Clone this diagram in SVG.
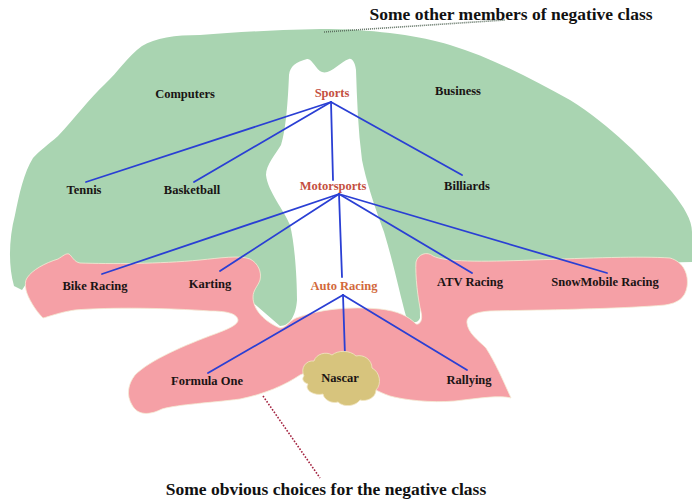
<svg xmlns="http://www.w3.org/2000/svg" width="692" height="500" viewBox="0 0 692 500">
  <style>
    .region-green { fill: #a9d4b1; }
    .region-pink { fill: #f5a0a6; stroke: #f4ecd6; stroke-width: 0.8; }
    .region-tan { fill: #d7c47d; stroke: #f1e6c4; stroke-width: 0.8; }
    .edge { stroke: #2a3fd4; stroke-width: 1.8; fill: none; stroke-linecap: round; }
    .lbl { font-family: "Liberation Serif", "Times New Roman", serif; font-weight: bold; font-size: 12.5px; text-anchor: middle; fill: #1a1414; }
    .hot { fill: #c4503f; }
    .warm { fill: #d2693c; }
    .caption { font-family: "Liberation Serif", "Times New Roman", serif; font-weight: bold; font-size: 17.5px; text-anchor: middle; fill: #111; }
  </style>
  <rect width="692" height="500" fill="#ffffff"/>

  <!-- broad green area: other members of the negative class -->
  <path id="green-area" class="region-green" d="M 14,286 C 8,265 9,238 15,215 C 19,195 24,172 33,158 C 40,150 48,145 58,136 C 75,118 90,98 105,84 C 118,72 128,56 142,46 C 155,38 175,35 200,35 C 240,32 290,29 330,29 C 380,30 420,36 450,45 C 490,57 530,78 570,100 C 610,125 645,160 672,192 C 684,207 692,220 692,232 L 692,262 L 430,268 C 418,285 420,305 420,318 C 418,324 410,324 406,316 C 400,295 394,265 384,232 C 374,205 366,180 362,160 C 358,130 357,100 356,70 C 355,62 352,58 349,59 C 340,62 330,75 322,72 C 316,70 312,58 307,59 C 296,62 290,66 289,75 C 288,100 286,130 281,145 C 275,155 266,165 266,175 C 268,192 284,210 290,225 C 295,245 297,280 297,300 C 296,315 290,326 280,326 L 250,300 L 30,278 L 22,290 Z"/>

  <!-- pink area: obvious choices for the negative class -->
  <path id="pink-area" class="region-pink" d="M 27,278 C 32,270 45,263 58,259 C 63,256 66,253 69,254 C 72,256 74,262 80,263 C 110,264 160,264 200,260 C 220,258 240,255 250,259 C 258,263 262,272 260,280 C 258,286 253,290 253,297 C 253,310 265,322 280,328 C 286,328 288,322 296,318 C 320,309 350,306 380,309 C 398,311 408,316 416,324 C 420,325 423,320 421,312 C 418,300 415,275 416,262 C 418,254 427,251 433,256 C 445,262 480,262 533,260 C 590,258 640,256 670,258 C 684,262 689,275 687,287 C 685,298 678,303 665,305 C 620,309 540,310 490,311 C 475,312 466,316 467,323 C 468,333 478,340 486,348 C 495,362 503,380 511,398 C 500,395 480,398 455,401 C 430,403 405,400 390,396 C 378,392 370,386 360,384 C 340,370 315,368 300,375 C 285,385 265,394 240,399 C 210,403 180,404 162,409 C 150,415 138,416 132,405 C 126,395 128,384 135,375 C 150,360 185,345 215,334 C 228,329 238,325 238,320 C 237,313 225,311 210,311 C 170,308 110,307 75,310 C 60,312 48,317 43,318 C 35,310 28,298 26,290 C 25,285 25,281 27,278 Z"/>

  <!-- leader lines for the captions -->
  <line x1="324" y1="32" x2="505" y2="20" stroke="#5d6f60" stroke-width="1.6" stroke-dasharray="1 1"/>
  <line x1="263" y1="396" x2="320" y2="478" stroke="#a3223f" stroke-width="1.6" stroke-dasharray="1.6 1.6"/>

  <!-- connectors -->
  <g id="connectors">
    <line class="edge" x1="331" y1="102" x2="86" y2="182"/>
    <line class="edge" x1="331" y1="102" x2="194" y2="182"/>
    <line class="edge" x1="331" y1="102" x2="333" y2="180"/>
    <line class="edge" x1="331" y1="102" x2="462" y2="175"/>
    <line class="edge" x1="339" y1="194" x2="102" y2="274"/>
    <line class="edge" x1="339" y1="194" x2="220" y2="271"/>
    <line class="edge" x1="339" y1="194" x2="342" y2="277"/>
    <line class="edge" x1="339" y1="194" x2="472" y2="273"/>
    <line class="edge" x1="339" y1="194" x2="607" y2="273"/>
    <line class="edge" x1="343" y1="295" x2="208" y2="373"/>
    <line class="edge" x1="343" y1="295" x2="345" y2="356"/>
    <line class="edge" x1="343" y1="295" x2="467" y2="370"/>
  </g>

  <!-- nascar cloud -->
  <g id="node-nascar">
    <path class="region-tan" d="M 304,376 C 300,368 306,360 314,361 C 316,354 326,351 332,355 C 338,350 350,350 356,356 C 364,354 372,360 372,368 C 380,372 382,384 376,390 C 376,398 366,402 360,400 C 356,406 344,408 338,402 C 332,404 324,400 323,394 C 314,396 304,390 308,384 C 302,382 302,378 304,376 Z"/>
    <text class="lbl" x="340" y="382">Nascar</text>
  </g>

  <g id="node-computers"><text class="lbl" x="185" y="98">Computers</text></g>
  <g id="node-sports"><text class="lbl hot" x="332" y="97">Sports</text></g>
  <g id="node-business"><text class="lbl" x="458" y="95">Business</text></g>
  <g id="node-tennis"><text class="lbl" x="84" y="194">Tennis</text></g>
  <g id="node-basketball"><text class="lbl" x="192" y="194">Basketball</text></g>
  <g id="node-motorsports"><text class="lbl hot" x="333" y="190">Motorsports</text></g>
  <g id="node-billiards"><text class="lbl" x="467" y="190">Billiards</text></g>
  <g id="node-bike-racing"><text class="lbl" x="95" y="290">Bike Racing</text></g>
  <g id="node-karting"><text class="lbl" x="210" y="288">Karting</text></g>
  <g id="node-auto-racing"><text class="lbl warm" x="344" y="290">Auto Racing</text></g>
  <g id="node-atv-racing"><text class="lbl" x="470" y="286">ATV Racing</text></g>
  <g id="node-snowmobile-racing"><text class="lbl" x="605" y="286">SnowMobile Racing</text></g>
  <g id="node-formula-one"><text class="lbl" x="207" y="385">Formula One</text></g>
  <g id="node-rallying"><text class="lbl" x="469" y="384">Rallying</text></g>

  <text class="caption" x="511" y="20">Some other members of negative class</text>
  <text class="caption" x="326" y="495">Some obvious choices for the negative class</text>
</svg>
